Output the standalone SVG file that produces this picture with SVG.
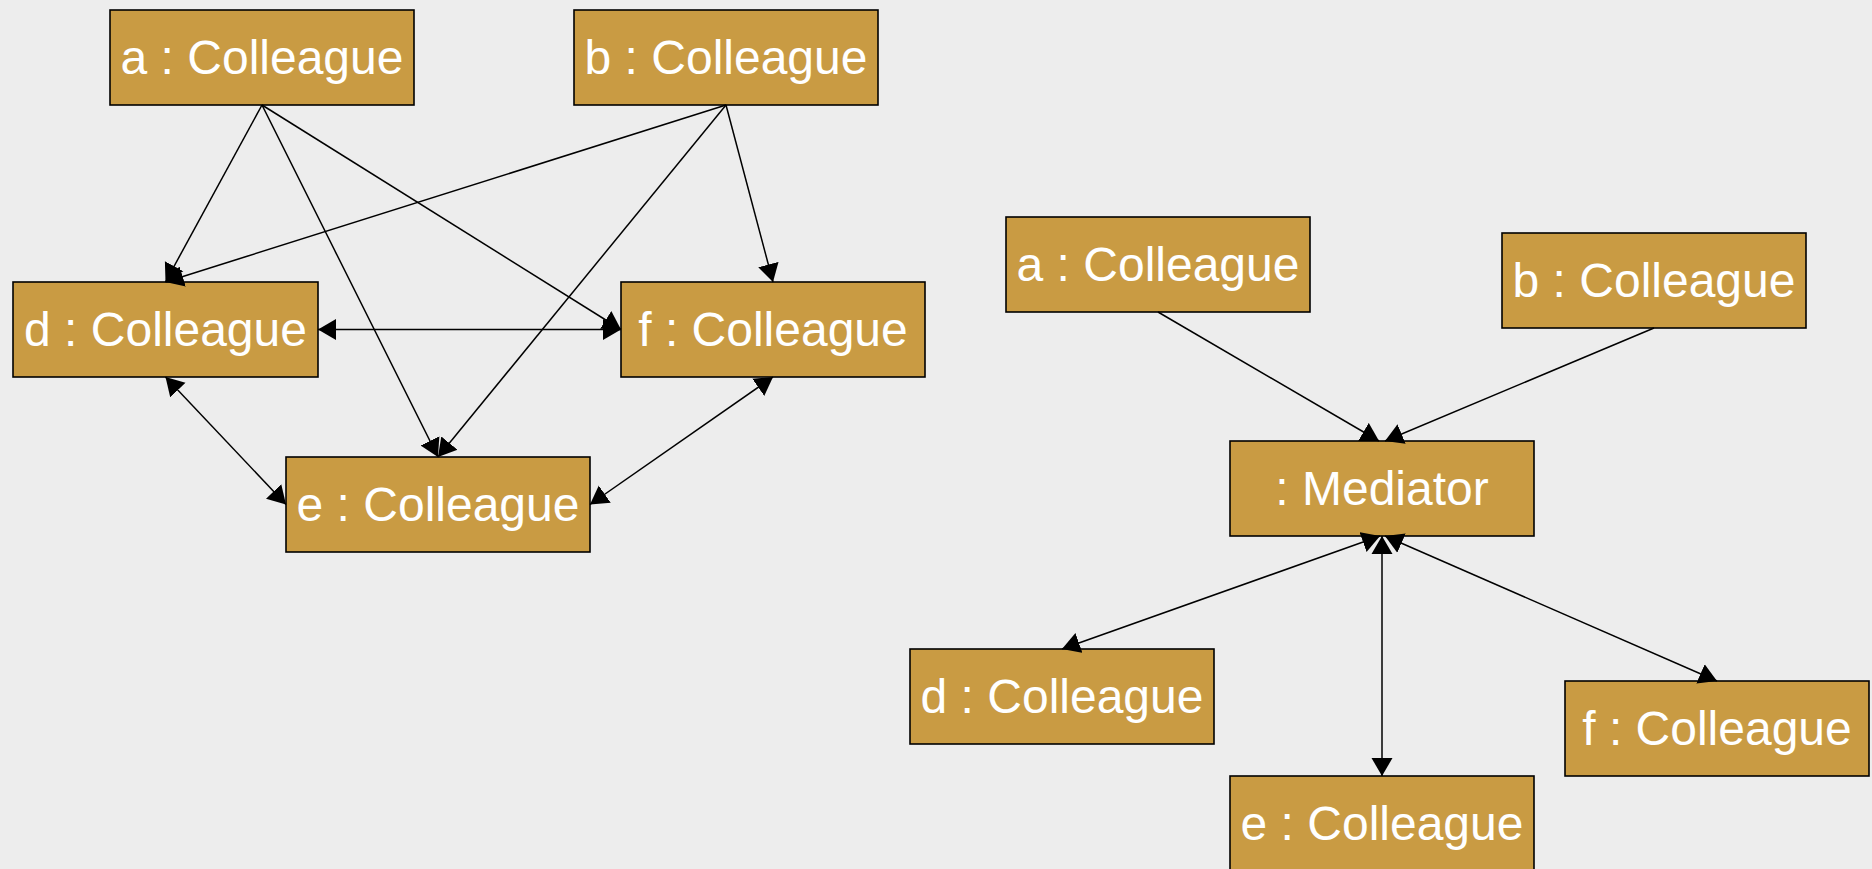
<svg xmlns="http://www.w3.org/2000/svg" width="1872" height="869" viewBox="0 0 1872 869">
<style>
.box{fill:#C99B43;stroke:#000;stroke-width:1.6}
.lbl{fill:#fff;font-family:"Liberation Sans",Arial,sans-serif;font-size:48px;text-anchor:middle}
.edge{stroke:#000;stroke-width:1.5;fill:none;marker-end:url(#ah)}
.both{marker-start:url(#ah)}
</style>
<defs>
<marker id="ah" markerUnits="userSpaceOnUse" viewBox="0 -11 18 22" refX="18" refY="0" markerWidth="18" markerHeight="22" orient="auto-start-reverse">
<path d="M0,-10.5 L18,0 L0,10.5 Z" fill="#000"/>
</marker>
</defs>
<rect width="1872" height="869" fill="#EDEDED"/>
<g id="L_a"><rect class="box" x="110" y="10" width="304" height="95"/><text class="lbl" x="262" y="74">a : Colleague</text></g>
<g id="L_b"><rect class="box" x="574" y="10" width="304" height="95"/><text class="lbl" x="726" y="74">b : Colleague</text></g>
<g id="L_d"><rect class="box" x="13" y="282" width="305" height="95"/><text class="lbl" x="165.5" y="346">d : Colleague</text></g>
<g id="L_f"><rect class="box" x="621" y="282" width="304" height="95"/><text class="lbl" x="773" y="346">f : Colleague</text></g>
<g id="L_e"><rect class="box" x="286" y="457" width="304" height="95"/><text class="lbl" x="438" y="521">e : Colleague</text></g>
<g id="R_a"><rect class="box" x="1006" y="217" width="304" height="95"/><text class="lbl" x="1158" y="281">a : Colleague</text></g>
<g id="R_b"><rect class="box" x="1502" y="233" width="304" height="95"/><text class="lbl" x="1654" y="297">b : Colleague</text></g>
<g id="R_m"><rect class="box" x="1230" y="441" width="304" height="95"/><text class="lbl" x="1382" y="505">: Mediator</text></g>
<g id="R_d"><rect class="box" x="910" y="649" width="304" height="95"/><text class="lbl" x="1062" y="713">d : Colleague</text></g>
<g id="R_f"><rect class="box" x="1565" y="681" width="304" height="95"/><text class="lbl" x="1717" y="745">f : Colleague</text></g>
<g id="R_e"><rect class="box" x="1230" y="776" width="304" height="95"/><text class="lbl" x="1382" y="840">e : Colleague</text></g>
<g id="connectors">
<line class="edge" x1="262" y1="105" x2="165.5" y2="282"/>
<line class="edge" x1="262" y1="105" x2="438" y2="457"/>
<line class="edge" x1="262" y1="105" x2="621" y2="329.5"/>
<line class="edge" x1="726" y1="105" x2="165.5" y2="282"/>
<line class="edge" x1="726" y1="105" x2="438" y2="457"/>
<line class="edge" x1="726" y1="105" x2="773" y2="282"/>
<line class="edge both" x1="318" y1="329.5" x2="621" y2="329.5"/>
<line class="edge both" x1="165.5" y1="377" x2="286" y2="504.5"/>
<line class="edge both" x1="773" y1="377" x2="590" y2="504.5"/>
<line class="edge" x1="1158" y1="312" x2="1379" y2="441"/>
<line class="edge" x1="1654" y1="328" x2="1385" y2="441"/>
<line class="edge both" x1="1380" y1="536" x2="1062" y2="649"/>
<line class="edge both" x1="1382" y1="536" x2="1382" y2="776"/>
<line class="edge both" x1="1385" y1="536" x2="1717" y2="681"/>
</g>
</svg>
